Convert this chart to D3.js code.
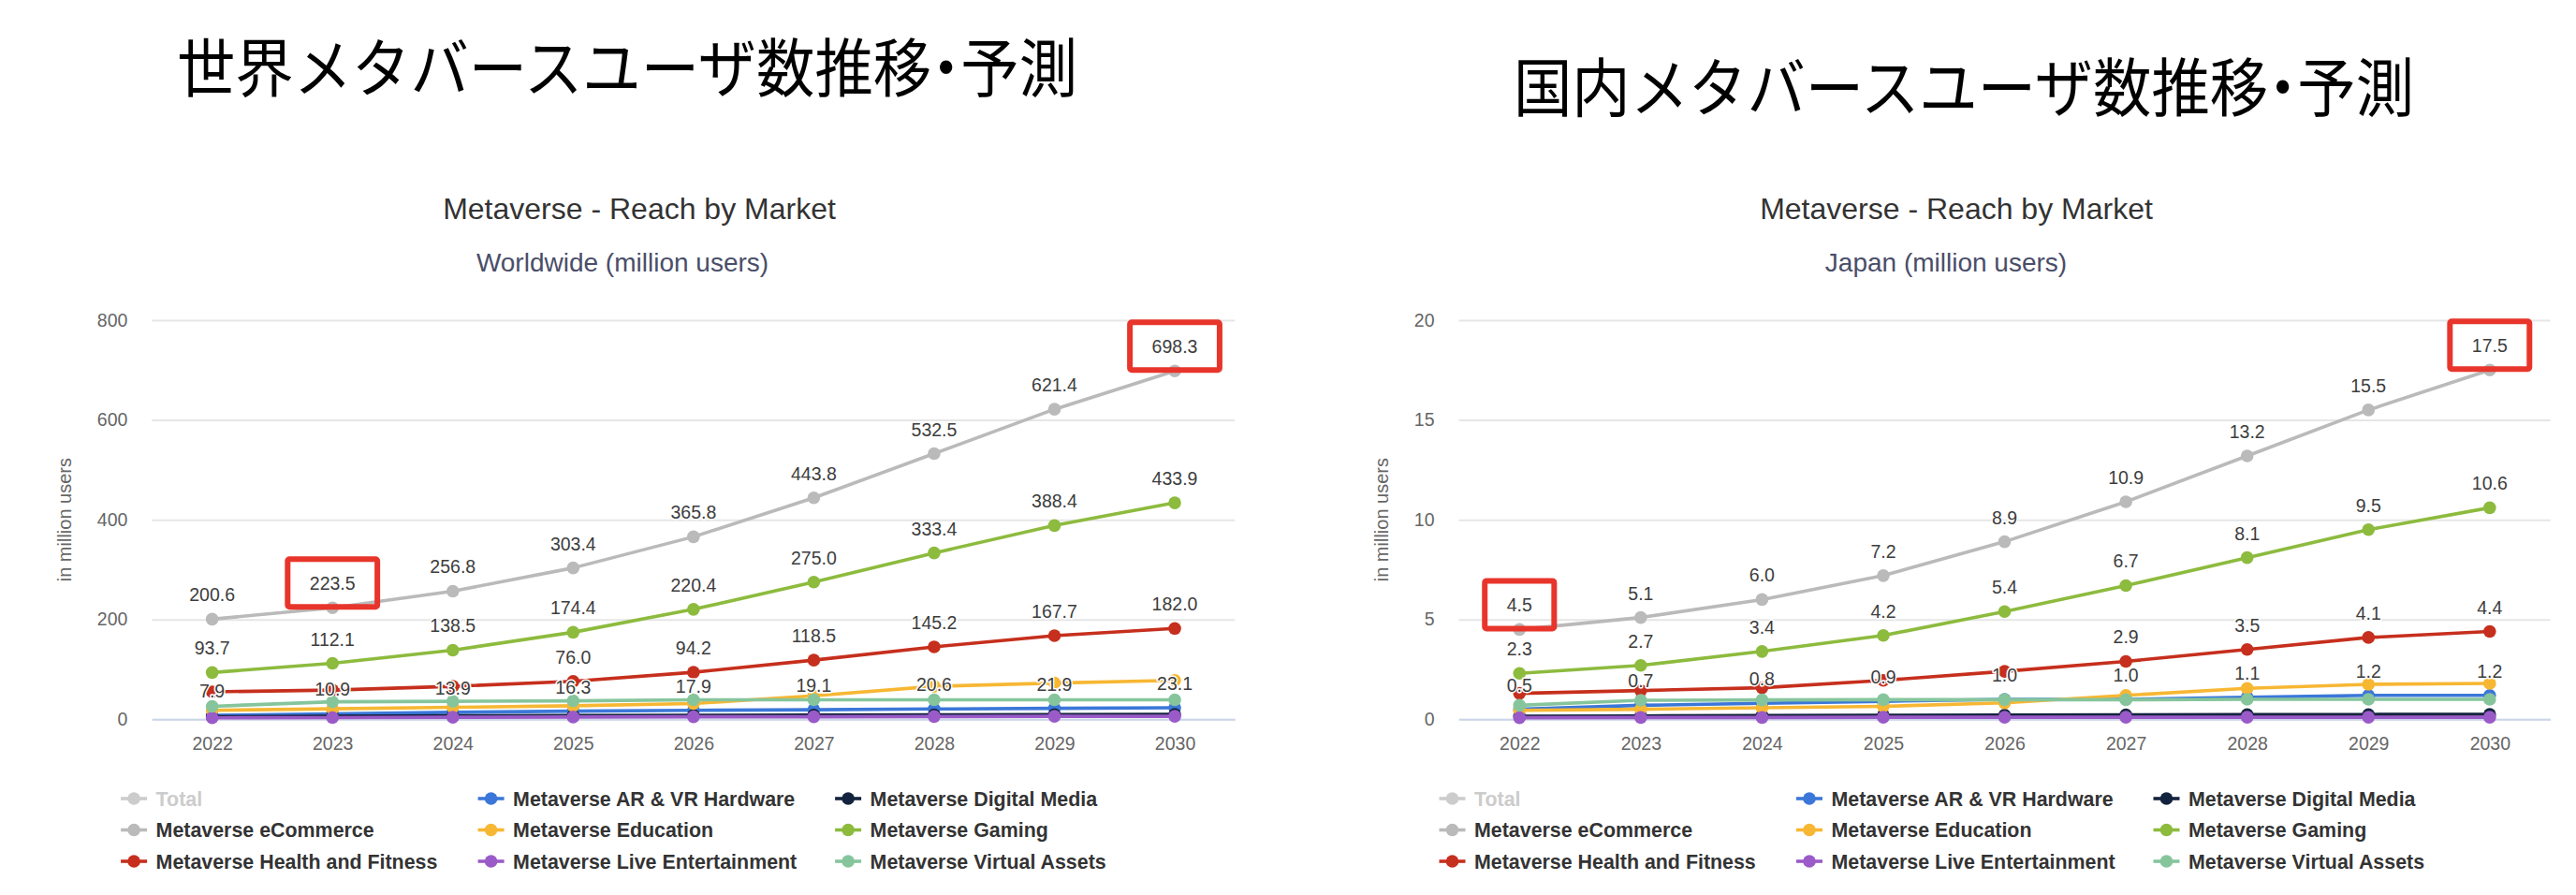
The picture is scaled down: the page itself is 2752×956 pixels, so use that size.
<!DOCTYPE html>
<html>
<head>
<meta charset="utf-8">
<script src="https://cdn.jsdelivr.net/npm/d3@7"></script>
<style>
  body { margin: 0; background: #fff; }
  text { font-family: "Liberation Sans", Arial, Helvetica, sans-serif; }
</style>
</head>
<body>
<svg id="chart" width="2752" height="956"></svg>
<script>
'use strict';

// categories
const years = ['2022', '2023', '2024', '2025', '2026', '2027', '2028', '2029', '2030'];

// series, in legend / drawing order
const seriesNames = [
  'Total',
  'Metaverse AR & VR Hardware',
  'Metaverse Digital Media',
  'Metaverse eCommerce',
  'Metaverse Education',
  'Metaverse Gaming',
  'Metaverse Health and Fitness',
  'Metaverse Live Entertainment',
  'Metaverse Virtual Assets'
];
const seriesColors = ['#cccccc', '#3b77d9', '#13233d', '#bababa', '#f7b733', '#8dbb3e', '#c62f1d', '#9a5ac8', '#86c59c'];
const hiddenSeries = ['Total'];
const labelledSeries = ['Metaverse AR & VR Hardware', 'Metaverse eCommerce', 'Metaverse Gaming', 'Metaverse Health and Fitness'];

// Worldwide (million users)
const worldARVR = [7.9, 10.9, 13.9, 16.3, 17.9, 19.1, 20.6, 21.9, 23.1];
const worldDigitalMedia = [5, 6, 7, 7.5, 8, 8.5, 9, 9.5, 10];
const worldECommerce = [200.6, 223.5, 256.8, 303.4, 365.8, 443.8, 532.5, 621.4, 698.3];
const worldEducation = [18, 21, 24, 27, 31.5, 47, 66, 72.5, 78];
const worldGaming = [93.7, 112.1, 138.5, 174.4, 220.4, 275.0, 333.4, 388.4, 433.9];
const worldHealth = [55, 58.5, 66, 76.0, 94.2, 118.5, 145.2, 167.7, 182.0];
const worldLive = [3, 3.5, 4, 4.5, 5, 5, 5.5, 6, 6];
const worldVirtual = [26, 35, 36, 37, 39, 39, 39, 39, 39];
const worldYTicks = [0, 200, 400, 600, 800];
const worldHiddenHealthLabels = [0, 1, 2];
const worldHighlights = [1, 8]; // eCommerce points boxed in red

// Japan (million users)
const japanARVR = [0.5, 0.7, 0.8, 0.9, 1.0, 1.0, 1.1, 1.2, 1.2];
const japanDigitalMedia = [0.15, 0.17, 0.19, 0.2, 0.21, 0.22, 0.23, 0.24, 0.25];
const japanECommerce = [4.5, 5.1, 6.0, 7.2, 8.9, 10.9, 13.2, 15.5, 17.5];
const japanEducation = [0.45, 0.5, 0.58, 0.65, 0.82, 1.2, 1.55, 1.75, 1.8];
const japanGaming = [2.3, 2.7, 3.4, 4.2, 5.4, 6.7, 8.1, 9.5, 10.6];
const japanHealth = [1.3, 1.44, 1.58, 1.95, 2.4, 2.9, 3.5, 4.1, 4.4];
const japanLive = [0.08, 0.09, 0.09, 0.1, 0.1, 0.1, 0.1, 0.1, 0.1];
const japanVirtual = [0.7, 0.95, 0.97, 0.98, 0.98, 0.98, 1.0, 1.0, 1.0];
const japanYTicks = [0, 5, 10, 15, 20];
const japanHiddenHealthLabels = [0, 1, 2, 3, 4];
const japanHighlights = [0, 8];

const charts = [
  {
    heading: '世界メタバースユーザ数推移・予測', headingX: 670, headingY: 98,
    title: 'Metaverse - Reach by Market', titleX: 683,
    subtitle: 'Worldwide (million users)', subtitleX: 665,
    left: 162.4, right: 1319.3, legendX: 166.6,
    yTicks: worldYTicks,
    values: [null, worldARVR, worldDigitalMedia, worldECommerce, worldEducation, worldGaming, worldHealth, worldLive, worldVirtual],
    hiddenLabels: {'Metaverse Health and Fitness': worldHiddenHealthLabels},
    highlights: worldHighlights
  },
  {
    heading: '国内メタバースユーザ数推移・予測', headingX: 2098, headingY: 119,
    title: 'Metaverse - Reach by Market', titleX: 2090,
    subtitle: 'Japan (million users)', subtitleX: 2079,
    left: 1558.5, right: 2724.6, legendX: 1575,
    yTicks: japanYTicks,
    values: [null, japanARVR, japanDigitalMedia, japanECommerce, japanEducation, japanGaming, japanHealth, japanLive, japanVirtual],
    hiddenLabels: {'Metaverse Health and Fitness': japanHiddenHealthLabels},
    highlights: japanHighlights
  }
];

const plotTop = 342, plotBottom = 768.3;
const svg = d3.select('#chart');
const fmt = d3.format('.1f');

function drawChart(cfg) {
  var g = svg.append('g');

  // big Japanese heading: half-width punctuation, fitted to the reference width
  g.append('text')
    .attr('x', cfg.headingX - 481).attr('y', cfg.headingY)
    .attr('textLength', 962)
    .attr('lengthAdjust', 'spacingAndGlyphs')
    .style('font-family', '"Noto Sans CJK JP", sans-serif')
    .style('font-feature-settings', '"halt"')
    .style('font-size', '68px')
    .attr('fill', '#000')
    .text(cfg.heading);

  g.append('text')
    .attr('x', cfg.titleX).attr('y', 234)
    .attr('text-anchor', 'middle')
    .style('font-size', '32px').attr('fill', '#333')
    .text(cfg.title);
  g.append('text')
    .attr('x', cfg.subtitleX).attr('y', 290)
    .attr('text-anchor', 'middle')
    .style('font-size', '28px').attr('fill', '#4a4e69')
    .text(cfg.subtitle);

  var x = d3.scalePoint().domain(years).range([cfg.left, cfg.right]).padding(0.5);
  var y = d3.scaleLinear().domain([0, d3.max(cfg.yTicks)]).range([plotBottom, plotTop]);

  // y axis + gridlines
  var yAxis = g.append('g')
    .attr('transform', 'translate(' + cfg.left + ',0)')
    .call(d3.axisLeft(y).tickValues(cfg.yTicks).tickSize(-(cfg.right - cfg.left)).tickPadding(26));
  yAxis.select('.domain').remove();
  yAxis.selectAll('line').attr('stroke', '#e6e6e6').attr('stroke-width', 2);
  yAxis.selectAll('text').style('font-size', '19.5px').attr('fill', '#666');

  var labelW = d3.max(yAxis.selectAll('text').nodes(), n => n.getComputedTextLength());
  var titleX = cfg.left - 26 - labelW - 34.5;
  g.append('text')
    .attr('transform', 'translate(' + (titleX + 7) + ',' + ((plotTop + plotBottom) / 2) + ') rotate(-90)')
    .attr('text-anchor', 'middle')
    .style('font-size', '20px').attr('fill', '#666')
    .text('in million users');

  // x axis
  var xAxis = g.append('g')
    .attr('transform', 'translate(0,' + plotBottom + ')')
    .call(d3.axisBottom(x).tickSize(0).tickSizeOuter(0).tickPadding(19));
  xAxis.select('.domain').attr('stroke', '#ccd6eb').attr('stroke-width', 2);
  xAxis.selectAll('text').style('font-size', '19.5px').attr('fill', '#666');

  // series
  var line = d3.line()
    .x((d, i) => x(years[i]))
    .y(d => y(d));
  var seriesG = g.append('g');
  seriesNames.forEach(function(name, si) {
    var vals = cfg.values[si];
    if (!vals || hiddenSeries.includes(name)) return;
    var sg = seriesG.append('g');
    sg.append('path')
      .datum(vals)
      .attr('d', line)
      .attr('fill', 'none')
      .attr('stroke', seriesColors[si])
      .attr('stroke-width', 3.6)
      .attr('stroke-linejoin', 'round');
    sg.selectAll('circle')
      .data(vals)
      .join('circle')
        .attr('cx', (d, i) => x(years[i]))
        .attr('cy', d => y(d))
        .attr('r', 6.8)
        .attr('fill', seriesColors[si]);
  });

  // data labels
  var labelG = g.append('g');
  var labelNodes = {};
  labelledSeries.forEach(function(name) {
    var si = seriesNames.indexOf(name);
    var vals = cfg.values[si];
    var hide = cfg.hiddenLabels[name] || [];
    var pts = vals.map((v, i) => ({v: v, i: i})).filter(p => !hide.includes(p.i));
    var t = labelG.selectAll(null)
      .data(pts)
      .join('text')
        .attr('x', p => x(years[p.i]))
        .attr('y', p => y(p.v) - 19)
        .attr('text-anchor', 'middle')
        .style('font-size', '19.5px')
        .attr('fill', '#3d3d3d')
        .attr('stroke', '#fff')
        .attr('stroke-width', 3)
        .attr('stroke-linejoin', 'round')
        .attr('paint-order', 'stroke')
        .text(p => fmt(p.v));
    labelNodes[name] = t;
  });

  // red highlight boxes round the eCommerce labels
  var hl = labelNodes['Metaverse eCommerce'].filter(p => cfg.highlights.includes(p.i));
  hl.each(function(p) {
    var tw = this.getComputedTextLength();
    var cx = x(years[p.i]);
    var cy = y(p.v) - 26.5;
    labelG.append('rect')
      .attr('x', cx - (tw + 53) / 2 + 3)
      .attr('y', cy - 28.5 + 3)
      .attr('width', tw + 47)
      .attr('height', 51)
      .attr('rx', 2)
      .attr('fill', 'none')
      .attr('stroke', '#e8352b')
      .attr('stroke-width', 6);
  });

  // legend, three columns
  var legend = g.append('g');
  seriesNames.forEach(function(name, si) {
    var col = si % 3, row = Math.floor(si / 3);
    var tx = cfg.legendX + col * 381.5;
    var ty = 853 + row * 33.5;
    var off = hiddenSeries.includes(name);
    var c = off ? '#cccccc' : seriesColors[si];
    var item = legend.append('g');
    item.append('line')
      .attr('x1', tx - 37.5).attr('x2', tx - 9.5)
      .attr('y1', ty).attr('y2', ty)
      .attr('stroke', c).attr('stroke-width', 3.6);
    item.append('circle')
      .attr('cx', tx - 23.5).attr('cy', ty).attr('r', 6.8)
      .attr('fill', c);
    item.append('text')
      .attr('x', tx).attr('y', ty + 7.5)
      .style('font-size', '21.4px').style('font-weight', 'bold')
      .attr('fill', off ? '#cccccc' : '#333')
      .text(name);
  });
}

charts.forEach(drawChart);
</script>
</body>
</html>
